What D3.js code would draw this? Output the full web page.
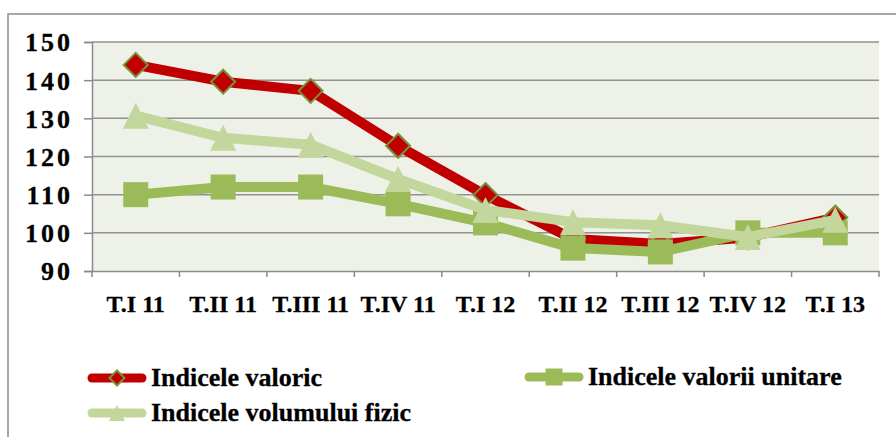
<!DOCTYPE html>
<html>
<head>
<meta charset="utf-8">
<script src="https://cdn.jsdelivr.net/npm/d3@7"></script>
<style>
  html, body { margin: 0; padding: 0; background: #fff; }
  svg { display: block; }
</style>
</head>
<body>
<svg id="chart" width="896" height="437"></svg>
<script>
// Quarterly indices, 2011 – Q1 2013
const categories = ["T.I 11", "T.II 11", "T.III 11", "T.IV 11", "T.I 12", "T.II 12", "T.III 12", "T.IV 12", "T.I 13"];
const valoric   = [144, 139.6, 137.2, 122.8, 109.9, 98.4, 97.1, 98.8, 104];
const unitare   = [110, 112, 112, 107.6, 102.6, 96, 95, 100, 100];
const volum     = [130.7, 124.9, 123.1, 114.1, 106, 102.8, 102, 98.9, 103.4];
const yTicks    = [90, 100, 110, 120, 130, 140, 150];
const seriesNames = ["Indicele valoric", "Indicele valorii unitare", "Indicele volumului fizic"];

const FONT = "'Liberation Serif', 'DejaVu Serif', serif";

const svg = d3.select("#chart");
const plot = { left: 92, right: 879, top: 42, bottom: 271 };

const x = d3.scaleBand().domain(categories).range([plot.left, plot.right]).paddingInner(0).paddingOuter(0);
const cx = d => x(d) + x.bandwidth() / 2;
const y = d3.scaleLinear().domain([90, 150]).range([plot.bottom, plot.top]);

function labelStyle(sel, size) {
  sel.style("font-family", FONT).style("font-weight", "bold")
    .style("fill", "#000").style("stroke", "#000").style("stroke-width", "0.3px")
    .style("font-size", size + "px");
}

// chart frame
svg.append("rect")
  .attr("x", 8).attr("y", 14).attr("width", 910).attr("height", 460)
  .attr("fill", "none").attr("stroke", "#8a8a8a").attr("stroke-width", 1.5);

// plot background
svg.append("rect")
  .attr("x", plot.left).attr("y", plot.top)
  .attr("width", plot.right - plot.left).attr("height", plot.bottom - plot.top)
  .attr("fill", "#eef1e8");

// horizontal gridlines
svg.append("g").selectAll("line").data(yTicks.filter(t => t > 90)).join("line")
  .attr("x1", plot.left).attr("x2", plot.right)
  .attr("y1", d => y(d)).attr("y2", d => y(d))
  .attr("stroke", "#929292").attr("stroke-width", 1.5);

// y axis
const yAxis = svg.append("g")
  .attr("transform", `translate(${plot.left},0)`)
  .call(d3.axisLeft(y).tickValues(yTicks).tickSize(8).tickPadding(0));
yAxis.attr("font-family", null).attr("font-size", null);
yAxis.select(".domain").attr("stroke", "#8a8a8a").attr("stroke-width", 1.5);
yAxis.selectAll(".tick line").attr("stroke", "#8a8a8a").attr("stroke-width", 1.5);
yAxis.selectAll(".tick text")
  .attr("x", -19).attr("dy", "0.34em")
  .attr("text-anchor", "end")
  .call(labelStyle, 26)
  .style("letter-spacing", "3px");

// x axis
const xAxis = svg.append("g")
  .attr("transform", `translate(0,${plot.bottom})`)
  .call(d3.axisBottom(x).tickSize(0).tickPadding(0));
xAxis.attr("font-family", null).attr("font-size", null);
xAxis.select(".domain").attr("stroke", "#8a8a8a").attr("stroke-width", 1.5);
xAxis.selectAll(".tick text")
  .attr("y", 41).attr("dy", 0)
  .call(labelStyle, 24);
// category boundary tick marks
const bounds = categories.map(c => x(c)).concat([plot.right]);
xAxis.append("g").selectAll("line").data(bounds).join("line")
  .attr("x1", d => d).attr("x2", d => d).attr("y1", 0).attr("y2", 6)
  .attr("stroke", "#8a8a8a").attr("stroke-width", 1.5);

// series
const line = d3.line().x((d, i) => cx(categories[i])).y(d => y(d));
const styles = [
  { data: valoric, color: "#c00000", width: 10, marker: "diamond" },
  { data: unitare, color: "#9bbb59", width: 10, marker: "square" },
  { data: volum,   color: "#c3d69b", width: 10, marker: "triangle" }
];

function drawMarker(g, kind, px, py, size) {
  if (kind === "diamond") {
    const h = size / 2;
    g.append("path")
      .attr("d", `M${px},${py - h}L${px + h},${py}L${px},${py + h}L${px - h},${py}Z`)
      .attr("fill", "#c00000").attr("stroke", "#77933c").attr("stroke-width", 2);
  } else if (kind === "square") {
    g.append("rect")
      .attr("x", px - size / 2).attr("y", py - size / 2)
      .attr("width", size).attr("height", size)
      .attr("fill", "#9bbb59");
  } else {
    const h = size / 2;
    g.append("path")
      .attr("d", `M${px},${py - h}L${px + h},${py + h}L${px - h},${py + h}Z`)
      .attr("fill", "#c3d69b");
  }
}

const markerSize = { diamond: 24, square: 25, triangle: 26 };

styles.forEach(s => {
  const g = svg.append("g");
  g.append("path").datum(s.data)
    .attr("d", line)
    .attr("fill", "none").attr("stroke", s.color)
    .attr("stroke-width", s.width).attr("stroke-linejoin", "round").attr("stroke-linecap", "round");
  s.data.forEach((v, i) => drawMarker(g, s.marker, cx(categories[i]), y(v), markerSize[s.marker]));
});

// legend
const legendItems = [
  { name: seriesNames[0], style: styles[0], lx: 88, ly: 378, size: 15 },
  { name: seriesNames[1], style: styles[1], lx: 525, ly: 377, size: 17 },
  { name: seriesNames[2], style: styles[2], lx: 88, ly: 413, size: 16 }
];
legendItems.forEach(it => {
  const g = svg.append("g");
  g.append("line")
    .attr("x1", it.lx + 4).attr("x2", it.lx + 54)
    .attr("y1", it.ly).attr("y2", it.ly)
    .attr("stroke", it.style.color).attr("stroke-width", 9).attr("stroke-linecap", "round");
  drawMarker(g, it.style.marker, it.lx + 29, it.ly, it.size);
  g.append("text")
    .attr("x", it.lx + 63).attr("y", it.ly + 8)
    .call(labelStyle, 26)
    .text(it.name);
});
</script>
</body>
</html>
